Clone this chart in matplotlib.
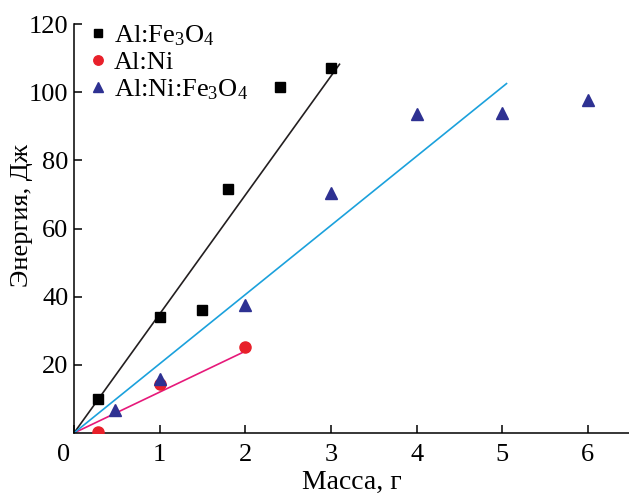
import matplotlib
matplotlib.use("Agg")
import matplotlib.pyplot as plt
import matplotlib.transforms as mtransforms
import numpy as np

plt.rcParams['font.family'] = ['Liberation Serif', 'DejaVu Serif']
plt.rcParams['mathtext.fontset'] = 'custom'
plt.rcParams['mathtext.rm'] = 'Liberation Serif'
plt.rcParams['mathtext.it'] = 'Liberation Serif'
plt.rcParams['mathtext.bf'] = 'Liberation Serif'

# Data
fe_x = [0.28, 1.0, 1.5, 1.8, 2.4, 3.0]
fe_y = [10.0, 34.0, 36.0, 71.5, 101.5, 107.0]
ni_x = [0.28, 1.0, 2.0]
ni_y = [0.3, 14.3, 25.3]
nife_x = [0.48, 1.0, 2.0, 3.0, 4.0, 5.0, 6.0]
nife_y = [6.7, 15.8, 37.7, 70.3, 93.5, 94.0, 97.7]

# fitted lines through origin: x range end and slope
fe_fit_xmax, fe_fit_slope = 3.1, 34.9
ni_fit_xmax, ni_fit_slope = 2.02, 12.0
nife_fit_xmax, nife_fit_slope = 5.05, 20.3

labels = [r'Al:Fe$_3$O$_4$', 'Al:Ni', r'Al:Ni:Fe$_3$O$_4$']
xticks = [0, 1, 2, 3, 4, 5, 6]
yticks = [20, 40, 60, 80, 100, 120]

fig = plt.figure(figsize=(6.29, 4.96), dpi=100)
ax = fig.add_axes([0.1176, 0.127, 0.8824, 0.8246])

c_fe = 'black'
c_ni = '#e8202a'
c_nife = '#2e3192'

for xmax, slope, col in [(fe_fit_xmax, fe_fit_slope, '#231f20'),
                         (ni_fit_xmax, ni_fit_slope, '#e6197a'),
                         (nife_fit_xmax, nife_fit_slope, '#1ba1dc')]:
    xs = np.array([0, xmax])
    ax.plot(xs, slope * xs, color=col, lw=1.2, zorder=2)

ax.plot(fe_x, fe_y, 's', color=c_fe, ms=7, ls='none', label=labels[0], zorder=3)
ax.plot(ni_x, ni_y, 'o', color=c_ni, ms=8, ls='none', label=labels[1], zorder=3)
ax.plot(nife_x, nife_y, '^', color=c_nife, ms=9, ls='none', label=labels[2], zorder=3)

ax.set_xlim(0, 6.48)
ax.set_ylim(0, 120)
ax.set_xticks(xticks)
ax.set_yticks(yticks)
ax.spines['top'].set_visible(False)
ax.spines['right'].set_visible(False)
for s in ['left', 'bottom']:
    ax.spines[s].set_linewidth(1.1)
ax.tick_params(direction='in', length=6, width=1.1, labelsize=19)
ax.tick_params(axis='y', pad=4)
ax.tick_params(axis='x', pad=8)

# shift the "0" x label left (shared corner label)
lab0 = ax.get_xticklabels()[0]
lab0.set_transform(lab0.get_transform() + mtransforms.ScaledTranslation(-10/100, 0, fig.dpi_scale_trans))

ax.set_xlabel('Масса, г', fontsize=20, labelpad=3)
ax.set_ylabel('Энергия, Дж', fontsize=19)
ax.yaxis.set_label_coords(-0.073, 0.533)

leg = ax.legend(loc='upper left', bbox_to_anchor=(0.0, 1.028), frameon=False,
                fontsize=19, handletextpad=0.1, labelspacing=0.11,
                handlelength=1.0, borderaxespad=0, markerscale=0.85)

fig.savefig('out.png', dpi=100)
